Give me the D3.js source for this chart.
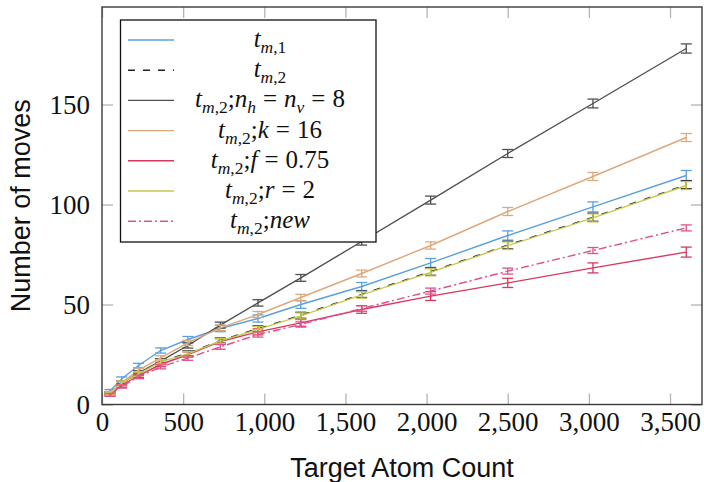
<!DOCTYPE html>
<html>
<head>
<meta charset="utf-8">
<script src="https://cdn.jsdelivr.net/npm/d3@7"></script>
<style>
  body { margin: 0; background: #fff; }
  svg { display: block; }
  .num, .math { font-family: "Liberation Serif", "Times New Roman", Times, "DejaVu Serif", serif; }
  .title { font-family: "Liberation Sans", Arial, Helvetica, sans-serif; }
</style>
</head>
<body>
<svg id="chart" width="704" height="482"></svg>
<script>
// Target atom counts (square arrays) on the x axis
const targetCounts = [49, 121, 225, 361, 529, 729, 961, 1225, 1600, 2025, 2500, 3025, 3600];

// Mean number of moves per configuration
const movesTm1   = [6.7, 12.8, 19.5, 27.0, 32.5, 38.0, 43.0, 50.0, 59.0, 70.8, 84.5, 98.8, 114.5];
const movesTm2   = [5.5, 11.0, 15.6, 21.6, 25.6, 32.0, 37.9, 44.6, 55.1, 66.4, 79.7, 93.6, 109.9];
const movesNh8   = [5.5, 10.5, 15.8, 21.7, 29.5, 39.7, 50.8, 63.3, 81.5, 102.2, 125.5, 150.5, 178.0];
const movesK16   = [5.8, 10.8, 17.2, 23.3, 30.8, 38.3, 45.0, 53.5, 65.5, 79.5, 96.5, 114.0, 133.5];
const movesF075  = [5.0, 9.5, 14.5, 20.0, 25.0, 31.5, 36.3, 40.8, 47.5, 54.2, 60.8, 68.3, 76.2];
const movesR2    = [5.3, 10.8, 15.3, 21.3, 25.3, 31.8, 37.6, 44.3, 54.8, 66.1, 79.4, 93.3, 109.5];
const movesNew   = [4.8, 9.0, 13.8, 18.8, 23.2, 28.8, 35.0, 40.0, 48.0, 56.7, 66.7, 77.0, 88.3];

// Half-widths of the error bars
const errTm1   = [0.8, 1.0, 1.1, 1.3, 1.5, 1.6, 1.8, 1.9, 2.0, 2.2, 2.3, 2.5, 2.5];
const errTm2   = [0.7, 0.9, 1.0, 1.1, 1.2, 1.3, 1.4, 1.5, 1.6, 1.8, 1.9, 2.0, 2.0];
const errNh8   = [0.8, 1.0, 1.0, 1.2, 1.3, 1.5, 1.6, 1.7, 1.8, 2.0, 2.0, 2.2, 2.3];
const errK16   = [0.8, 1.0, 1.0, 1.1, 1.3, 1.4, 1.5, 1.6, 1.7, 1.8, 2.0, 2.0, 2.0];
const errF075  = [0.7, 0.9, 1.0, 1.1, 1.3, 1.4, 1.5, 1.7, 1.9, 2.2, 2.3, 2.5, 2.5];
const errR2    = [0.7, 0.9, 1.0, 1.1, 1.2, 1.3, 1.4, 1.5, 1.6, 1.8, 1.9, 2.0, 2.0];
const errNew   = [0.7, 0.8, 0.9, 1.0, 1.1, 1.2, 1.3, 1.3, 1.4, 1.5, 1.5, 1.5, 1.5];

// Legend labels as math segments: i = italic, r = roman, si/sr = subscript italic/roman, rel = relation
const labelTm1  = [["t","i"],["m","si"],[",1","sr"]];
const labelTm2  = [["t","i"],["m","si"],[",2","sr"]];
const labelNh8  = [["t","i"],["m","si"],[",2","sr"],[";","r"],["n","i"],["h","si"],["=","rel"],["n","i"],["v","si"],["=","rel"],["8","r"]];
const labelK16  = [["t","i"],["m","si"],[",2","sr"],[";","r"],["k","i"],["=","rel"],["16","r"]];
const labelF075 = [["t","i"],["m","si"],[",2","sr"],[";","r"],["f","i"],["=","rel"],["0.75","r"]];
const labelR2   = [["t","i"],["m","si"],[",2","sr"],[";","r"],["r","i"],["=","rel"],["2","r"]];
const labelNew  = [["t","i"],["m","si"],[",2","sr"],[";","r"],["new","i"]];

const xTicks = [0, 500, 1000, 1500, 2000, 2500, 3000, 3500];
const yTicks = [0, 50, 100, 150];

const series = [
  { label: labelTm1,  values: movesTm1,  errors: errTm1,  color: "#5aa0e0", dash: null },
  { label: labelTm2,  values: movesTm2,  errors: errTm2,  color: "#222222", dash: "7,8" },
  { label: labelNh8,  values: movesNh8,  errors: errNh8,  color: "#505050", dash: null },
  { label: labelK16,  values: movesK16,  errors: errK16,  color: "#dca97c", dash: null },
  { label: labelF075, values: movesF075, errors: errF075, color: "#d8385e", dash: null },
  { label: labelR2,   values: movesR2,   errors: errR2,   color: "#c5c94e", dash: null },
  { label: labelNew,  values: movesNew,  errors: errNew,  color: "#e0508a", dash: "8,3,2,3" }
];

const svg = d3.select("#chart");
const mLeft = 102, mRight = 702, mTop = 7, mBottom = 404.5;

const x = d3.scaleLinear().domain([0, 3697]).range([mLeft, mRight]);
const y = d3.scaleLinear().domain([0, 198.75]).range([mBottom, mTop]);

const tickColor = "#b4b4b4";

// Axes with inward ticks on all four sides
function styleAxis(g) {
  g.attr("font-family", null).attr("font-size", null);
  g.select(".domain").remove();
  g.selectAll(".tick line").attr("stroke", tickColor).attr("stroke-width", 1.3);
  g.selectAll(".tick text").attr("class", "num").style("font-size", "27px").attr("fill", "#111");
}

svg.append("g").attr("transform", `translate(0,${mBottom})`)
  .call(d3.axisBottom(x).tickValues(xTicks).tickFormat(d3.format(",")).tickSizeInner(-11).tickSizeOuter(0).tickPadding(7.5))
  .call(styleAxis);
svg.append("g").attr("transform", `translate(0,${mTop})`)
  .call(d3.axisTop(x).tickValues(xTicks).tickFormat("").tickSizeInner(-11).tickSizeOuter(0))
  .call(styleAxis);
svg.append("g").attr("transform", `translate(${mLeft},0)`)
  .call(d3.axisLeft(y).tickValues(yTicks).tickSizeInner(-11).tickSizeOuter(0).tickPadding(12))
  .call(styleAxis);
svg.append("g").attr("transform", `translate(${mRight},0)`)
  .call(d3.axisRight(y).tickValues(yTicks).tickFormat("").tickSizeInner(-11).tickSizeOuter(0))
  .call(styleAxis);

// Data lines and error bars
const plot = svg.append("g");
const line = d3.line().x((d, i) => x(targetCounts[i])).y(d => y(d));

series.forEach(s => {
  const g = plot.append("g");
  g.append("path")
    .datum(s.values)
    .attr("d", line)
    .attr("fill", "none")
    .attr("stroke", s.color)
    .attr("stroke-width", 1.4)
    .attr("stroke-dasharray", s.dash);

  const bars = g.selectAll(".err")
    .data(s.values.map((v, i) => ({ cx: targetCounts[i], v, e: s.errors[i] })))
    .join("g")
    .attr("class", "err")
    .attr("stroke", s.color)
    .attr("stroke-width", 1.3);
  bars.append("line")
    .attr("x1", d => x(d.cx)).attr("x2", d => x(d.cx))
    .attr("y1", d => y(d.v - d.e)).attr("y2", d => y(d.v + d.e));
  bars.append("line")
    .attr("x1", d => x(d.cx) - 5.5).attr("x2", d => x(d.cx) + 5.5)
    .attr("y1", d => y(d.v - d.e)).attr("y2", d => y(d.v - d.e));
  bars.append("line")
    .attr("x1", d => x(d.cx) - 5.5).attr("x2", d => x(d.cx) + 5.5)
    .attr("y1", d => y(d.v + d.e)).attr("y2", d => y(d.v + d.e));
});

// Plot frame
svg.append("rect")
  .attr("x", mLeft).attr("y", mTop)
  .attr("width", mRight - mLeft).attr("height", mBottom - mTop)
  .attr("fill", "none").attr("stroke", "#3a3a3a").attr("stroke-width", 1.4);

// Legend
const legend = svg.append("g");
const lgX = 120.5, lgY = 20, lgW = 255.5, lgH = 222;
legend.append("rect")
  .attr("x", lgX).attr("y", lgY).attr("width", lgW).attr("height", lgH)
  .attr("fill", "#fff").attr("stroke", "#111").attr("stroke-width", 1.3);

const rowY = i => 40 + i * 30.2;
series.forEach((s, i) => {
  legend.append("line")
    .attr("x1", 128).attr("x2", 174)
    .attr("y1", rowY(i)).attr("y2", rowY(i))
    .attr("stroke", s.color).attr("stroke-width", 1.4)
    .attr("stroke-dasharray", s.dash);

  const text = legend.append("text")
    .attr("class", "math")
    .attr("x", 270).attr("y", rowY(i) + 7)
    .attr("text-anchor", "middle")
    .style("font-size", "25px")
    .attr("fill", "#111");
  let shift = 0, pad = 0;
  s.label.forEach(([str, kind]) => {
    const isSub = kind === "si" || kind === "sr";
    const target = isSub ? 6 : 0;
    const dx = pad + (kind === "rel" ? 7 : 0);
    text.append("tspan")
      .attr("dy", target - shift)
      .attr("dx", dx || null)
      .style("font-size", isSub ? "17.5px" : "25px")
      .style("font-style", kind === "i" || kind === "si" ? "italic" : "normal")
      .text(str);
    shift = target;
    pad = kind === "rel" ? 7 : 0;
  });
});

// Axis titles
svg.append("text")
  .attr("class", "title")
  .attr("x", (mLeft + mRight) / 2).attr("y", 477)
  .attr("text-anchor", "middle")
  .style("font-size", "27px").attr("fill", "#111")
  .text("Target Atom Count");
svg.append("text")
  .attr("class", "title")
  .attr("transform", `translate(30,${(mTop + mBottom) / 2}) rotate(-90)`)
  .attr("text-anchor", "middle")
  .style("font-size", "27px").attr("fill", "#111")
  .text("Number of moves");
</script>
</body>
</html>
